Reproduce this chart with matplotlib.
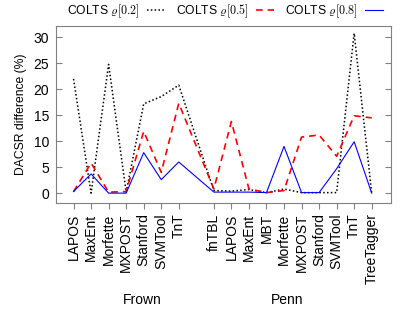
import numpy as np
import matplotlib
matplotlib.use("Agg")
import matplotlib.pyplot as plt

plt.rcParams['font.family'] = ['Liberation Sans', 'DejaVu Sans']
plt.rcParams['mathtext.fontset'] = 'cm'

# data
frown = ['LAPOS', 'MaxEnt', 'Morfette', 'MXPOST', 'Stanford', 'SVMTool', 'TnT']
penn = ['fnTBL', 'LAPOS', 'MaxEnt', 'MBT', 'Morfette', 'MXPOST', 'Stanford',
        'SVMTool', 'TnT', 'TreeTagger']
rho02 = [22.0, 0.0, 24.8, 0.2, 17.2, 18.6, 20.8,
         0.5, 0.4, 0.7, 0.1, 0.8, 0.1, 0.1, 0.1, 30.8, 0.0]
rho05 = [0.3, 5.8, 0.2, 0.3, 11.9, 4.0, 17.3,
         0.8, 13.8, 0.8, 0.1, 0.5, 10.8, 11.2, 7.1, 14.9, 14.5]
rho08 = [0.3, 3.7, 0.0, 0.0, 7.8, 2.6, 6.0,
         0.2, 0.2, 0.2, 0.1, 9.0, 0.1, 0.1, 4.7, 9.9, 0.0]

x = list(range(1, len(frown) + 1)) + list(range(len(frown) + 2, len(frown) + 2 + len(penn)))
labels = frown + penn

fig = plt.figure(figsize=(4.15, 3.12), dpi=100)
ax = fig.add_axes([56/415, 1 - 203/312, (391-56)/415, (203-26)/312])

l1, = ax.plot(x, rho02, color='black', linestyle=(0, (1, 1.5)), linewidth=1.1)
l2, = ax.plot(x, rho05, color='red', linestyle=(0, (4, 3)), linewidth=1.2)
l3, = ax.plot(x, rho08, color='blue', linestyle='-', linewidth=0.8)

ax.set_xlim(0, 19.1)
ax.set_ylim(-1.9, 32.2)
ax.set_yticks([0, 5, 10, 15, 20, 25, 30])
ax.set_xticks(x)
ax.set_xticklabels(labels, rotation=90, fontsize=10)
ax.tick_params(axis='y', direction='in', right=True, labelsize=10, colors='#808080',
               labelcolor='black', length=4, pad=5)
ax.tick_params(axis='x', direction='out', colors='#808080', labelcolor='black', length=4)
for s in ax.spines.values():
    s.set_color('#808080')
ax.set_ylabel("DACSR difference (%)", fontsize=8.7)
ax.yaxis.set_label_coords(-0.087, 0.5)

ax.text(4.9, -20.5, 'Frown', ha='center', va='center', fontsize=10)
ax.text(13.2, -20.5, 'Penn', ha='center', va='center', fontsize=10)

fig.legend([l1, l2, l3],
           [r'COLTS $\varrho[0.2]$', r'COLTS $\varrho[0.5]$', r'COLTS $\varrho[0.8]$'],
           loc='center', bbox_to_anchor=(225/415, 1 - 11/312), ncol=3, frameon=False,
           markerfirst=False, fontsize=8.7, handlelength=1.5, columnspacing=0.9,
           handletextpad=0.6, borderpad=0)

fig.savefig('out.png', dpi=100)
